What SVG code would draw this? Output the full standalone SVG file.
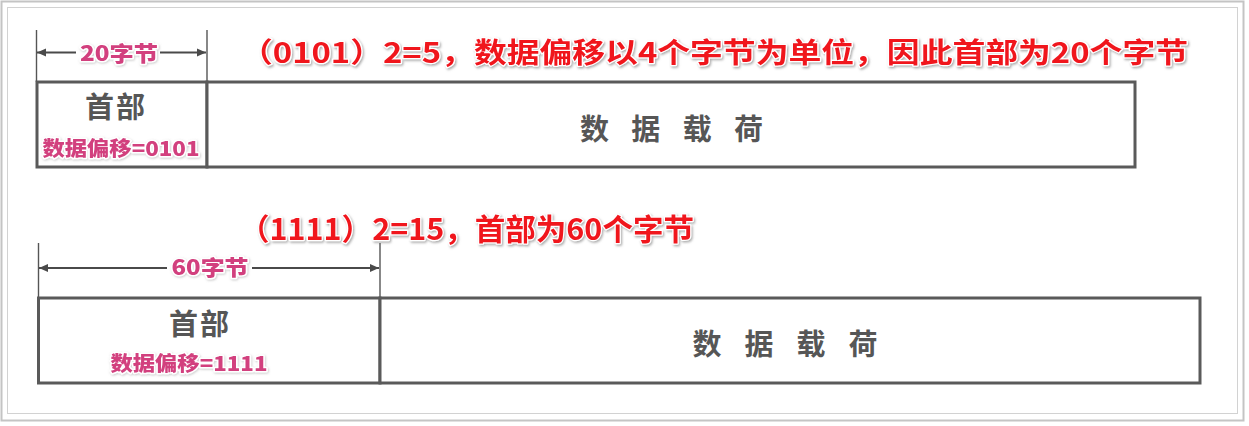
<svg xmlns="http://www.w3.org/2000/svg" width="1249" height="426" viewBox="0 0 1249 426">
<style>
.box{fill:#fff;stroke:#5a5a5a;stroke-width:3}
.dim{stroke:#4a4a4a;stroke-width:2;fill:none}
.tick{stroke:#555;stroke-width:1.4}
.hd{font-family:"Noto Sans CJK SC","Noto Sans",sans-serif;font-weight:700;fill:#565656;text-anchor:middle}
.pk{font-family:"Noto Sans CJK SC","Noto Sans",sans-serif;font-weight:900;fill:#d2407e;stroke:#fff;stroke-width:3;paint-order:stroke;stroke-linejoin:round;text-anchor:middle}
.rd{font-family:"Noto Sans CJK SC","Noto Sans",sans-serif;font-weight:700;fill:#f0141e;stroke:#fff;stroke-width:2.5;paint-order:stroke;stroke-linejoin:round}
</style>
<defs>
<marker id="ah" markerUnits="userSpaceOnUse" markerWidth="10" markerHeight="10" refX="9" refY="5" orient="auto">
<path d="M0,1 L9,5 L0,9 Z" fill="#4a4a4a"/>
</marker>
<filter id="sh" x="-5%" y="-30%" width="110%" height="160%">
<feDropShadow dx="1.2" dy="1.5" stdDeviation="0.8" flood-color="#888" flood-opacity="0.7"/>
</filter>
<filter id="shp" x="-5%" y="-30%" width="110%" height="160%">
<feDropShadow dx="0.8" dy="1" stdDeviation="0.8" flood-color="#999" flood-opacity="0.5"/>
</filter>
</defs>
<rect x="0" y="0" width="1249" height="426" fill="#fff"/>
<rect x="1.5" y="1.5" width="1242" height="419" fill="none" stroke="#c4c4c4" stroke-width="2"/>
<rect x="7.5" y="7.5" width="1230" height="406" fill="none" stroke="#d2d2d2" stroke-width="1"/>

<g id="title1">
<text class="rd" filter="url(#sh)" x="240" y="63" font-size="28" textLength="948" lengthAdjust="spacingAndGlyphs">（0101）2=5，数据偏移以4个字节为单位，因此首部为20个字节</text>
</g>
<g id="title2">
<text class="rd" filter="url(#sh)" x="239" y="240" font-size="30" textLength="455" lengthAdjust="spacingAndGlyphs">（1111）2=15，首部为60个字节</text>
</g>

<g id="connectors">
<line class="tick" x1="36.5" y1="30" x2="36.5" y2="82"/>
<line class="tick" x1="207" y1="30" x2="207" y2="82"/>
<line class="dim" x1="76" y1="52.5" x2="37" y2="52.5" marker-end="url(#ah)"/>
<line class="dim" x1="160" y1="52.5" x2="206" y2="52.5" marker-end="url(#ah)"/>
<line class="tick" x1="38.5" y1="243" x2="38.5" y2="298"/>
<line class="tick" x1="380" y1="243" x2="380" y2="298"/>
<line class="dim" x1="167" y1="268" x2="39" y2="268" marker-end="url(#ah)"/>
<line class="dim" x1="252" y1="268" x2="379" y2="268" marker-end="url(#ah)"/>
</g>

<g id="dim1">
<text class="pk" filter="url(#shp)" x="119" y="61" font-size="21" textLength="78" lengthAdjust="spacingAndGlyphs">20字节</text>
</g>
<g id="dim2">
<text class="pk" filter="url(#shp)" x="210" y="275" font-size="21" textLength="77" lengthAdjust="spacingAndGlyphs">60字节</text>
</g>

<g id="header1">
<rect class="box" x="37" y="82" width="170" height="85"/>
<text class="hd" x="116" y="118" font-size="29" letter-spacing="2">首部</text>
<text class="pk" filter="url(#shp)" x="121" y="156" font-size="20" textLength="157" lengthAdjust="spacingAndGlyphs">数据偏移=0101</text>
</g>
<g id="payload1">
<rect class="box" x="207" y="82" width="928" height="85"/>
<text class="hd" x="671.5" y="140" font-size="29" textLength="183" lengthAdjust="spacing">数据载荷</text>
</g>

<g id="header2">
<rect class="box" x="38.5" y="298" width="341.5" height="85"/>
<text class="hd" x="200" y="335" font-size="29" letter-spacing="2">首部</text>
<text class="pk" filter="url(#shp)" x="189" y="371" font-size="20" textLength="157" lengthAdjust="spacingAndGlyphs">数据偏移=1111</text>
</g>
<g id="payload2">
<rect class="box" x="380" y="298" width="820" height="85"/>
<text class="hd" x="785" y="355" font-size="29" textLength="185" lengthAdjust="spacing">数据载荷</text>
</g>
</svg>
